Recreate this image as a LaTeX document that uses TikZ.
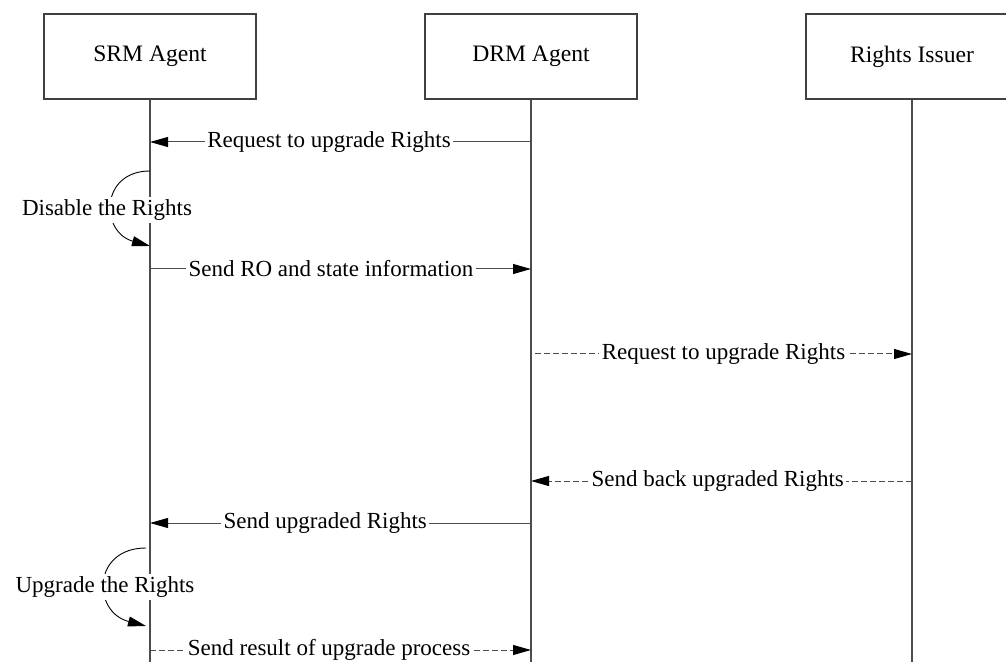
\documentclass[tikz,border=0pt]{standalone}
\usepackage{fontspec}
\setmainfont{Liberation Serif}
\usetikzlibrary{arrows.meta}

\tikzset{
  actor/.style={draw=black!75, line width=0.6pt, minimum width=106pt, minimum height=42.5pt, inner sep=0pt, font=\fontsize{11.8}{14}\selectfont},
  vida/.style={draw=black!70, line width=0.65pt},
  msg/.style={draw=black!70, line width=0.5pt, -{Triangle[length=9pt,width=5pt,black]}},
  msgd/.style={msg, dash pattern=on 3pt off 1.5pt},
  lazo/.style={draw=black, line width=0.45pt, -{Triangle[length=9pt,width=5pt,black]}},
  etiq/.style={fill=white, inner sep=1.2pt, font=\fontsize{11.5}{14}\selectfont},
}

\begin{document}
\begin{tikzpicture}[x=0.5pt,y=-0.5pt]
\useasboundingbox (0,0) rectangle (1006,662);

		% Actores
		\node[actor] (srm) at (150,56.5) {SRM Agent};
		\node[actor] (drm) at (531,56.5) {DRM Agent};
		\node[actor] (ri) at (912,56.5) {Rights Issuer};

		% Lineas de vida
		\coordinate (srmfin) at (srm.south |- 0,662);
		\coordinate (drmfin) at (drm.south |- 0,662);
		\coordinate (rifin) at (ri.south |- 0,662);
		\draw[vida] (srm.south) -- (srmfin);
		\draw[vida] (drm.south) -- (drmfin);
		\draw[vida] (ri.south) -- (rifin);

		% Puntos de los mensajes
		\coordinate (s1) at (srm.south |- 0,142);
		\coordinate (d1) at (drm.south |- 0,142);
		\coordinate (s2) at (srm.south |- 0,269);
		\coordinate (d2) at (drm.south |- 0,269);
		\coordinate (d3) at ([xshift=2pt]drm.south |- 0,354);
		\coordinate (r3) at (ri.south |- 0,354);
		\coordinate (d4) at (drm.south |- 0,481);
		\coordinate (r4) at (ri.south |- 0,481);
		\coordinate (s5) at (srm.south |- 0,523);
		\coordinate (d5) at (drm.south |- 0,523);
		\coordinate (s6) at (srm.south |- 0,650);
		\coordinate (d6) at (drm.south |- 0,650);

		% Mensajes
		\draw[msg] (d1) -- node[etiq, pos=0.53] {Request to upgrade Rights} (s1);
		\draw[msg] (s2) -- node[etiq, pos=0.475] {Send RO and state information} (d2);
		\draw[msgd] (d3) -- node[etiq] {Request to upgrade Rights} (r3);
		\draw[msgd] (r4) -- node[etiq, pos=0.51] {Send back upgraded Rights} (d4);
		\draw[msg] (d5) -- node[etiq, pos=0.54] {Send upgraded Rights} (s5);
		\draw[msgd] (s6) -- node[etiq, pos=0.47] {Send result of upgrade process} (d6);

		% Acciones internas
		\coordinate (a1) at (srm.south |- 0,171);
		\coordinate (b1) at (srm.south |- 0,246);
		\draw[lazo] (a1) .. controls (100,171) and (100,232) .. (b1);
		\node[etiq] (dis) at (107,210) {Disable the Rights};

		\coordinate (a2) at (146,548);
		\coordinate (b2) at (146,626);
		\draw[lazo] (a2) .. controls (92,548) and (92,612) .. (b2);
		\node[etiq] (upg) at (105,587) {Upgrade the Rights};

	\end{tikzpicture}
\end{document}
